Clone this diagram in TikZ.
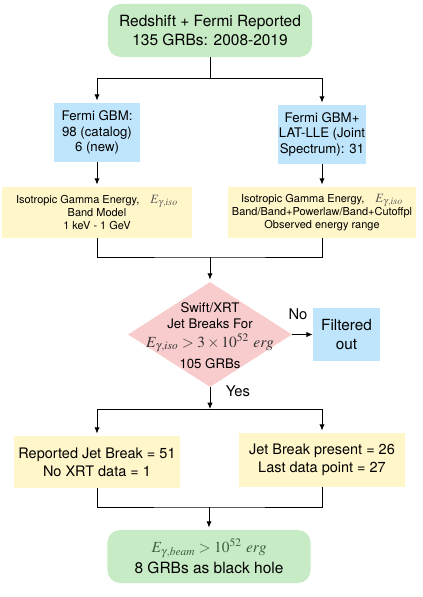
\documentclass[tikz,border=0pt]{standalone}
\usepackage{mathptmx}
\usepackage[no-math]{fontspec}
\setmainfont{TeX Gyre Heros}
\usepackage{tikz}
\usetikzlibrary{arrows.meta}
\usetikzlibrary{shapes.geometric}

\definecolor{boxgreen}{RGB}{199,235,197}
\definecolor{boxblue}{RGB}{190,229,251}
\definecolor{boxyellow}{RGB}{255,246,202}
\definecolor{boxpink}{RGB}{248,204,204}
\definecolor{mathgreen}{RGB}{60,95,60}

\tikzset{
	link/.style={line width=.7pt},
	flow/.style={line width=.7pt,->,>={Latex[length=4.5pt,width=3.8pt]},shorten >=1.5pt},
	endbox/.style={fill=boxgreen,rounded corners=9pt,inner sep=0pt,align=center,font=\fontsize{11}{13}\selectfont,minimum height=1.325cm},
	gbmbox/.style={fill=boxblue,inner sep=0pt,align=center,font=\fontsize{9.4}{10.7}\selectfont},
	isobox/.style={fill=boxyellow,inner sep=0pt,align=center,font=\fontsize{7.8}{9}\selectfont,minimum height=1.275cm},
	jbbox/.style={fill=boxyellow,inner sep=0pt,align=center,font=\fontsize{10.3}{12.6}\selectfont,minimum width=4.15cm},
	decision/.style={diamond,fill=boxpink,inner sep=0pt,minimum width=4.1cm,minimum height=2.625cm},
	answer/.style={font=\fontsize{10.5}{12}\selectfont}
}

\begin{document}
\begin{tikzpicture}[x=0.025cm,y=-0.025cm]
	\useasboundingbox (0,0) rectangle (422,597);
	\node[endbox,minimum width=5.1cm] (top) at (210,30.5) {Redshift + Fermi Reported\\135 GRBs: 2008-2019};
	\node[gbmbox,minimum width=2.15cm,minimum height=1.475cm] (gbm) at (97,132.5) {Fermi GBM:\\98 (catalog)\\6 (new)};
	\node[gbmbox,minimum width=2.175cm,minimum height=1.475cm] (lle) at (322,134.5) {Fermi GBM+\\LAT-LLE (Joint\\Spectrum): 31};
	\node[isobox,minimum width=4.725cm] (isoa) at (97,212.5) {Isotropic Gamma Energy,\quad{\fontsize{9}{9}\selectfont\color{black!65}$E_{\gamma,iso}$}\\Band Model\\1 keV - 1 GeV};
	\node[isobox,minimum width=4.7cm] (isob) at (322,212.5) {Isotropic Gamma Energy,\quad{\fontsize{9}{9}\selectfont\color{black!65}$E_{\gamma,iso}$}\\Band/Band+Powerlaw/Band+Cutoffpl\\Observed energy range};

	\node[decision] (jet) at (210,334.5) {};
	\node[align=center,font=\fontsize{9.4}{11.4}\selectfont] (jettxt) at ([yshift=-1pt]jet.center) {Swift/XRT\\Jet Breaks For\\[2pt]{\fontsize{11}{13}\selectfont\color{black!80}$E_{\gamma,iso} > 3\times10^{52}\ erg$}\\[4pt]105 GRBs};
	\node[gbmbox,font=\fontsize{10.9}{13}\selectfont,minimum width=1.675cm,minimum height=1.3cm] (filt) at (346.5,334.5) {Filtered\\out};
	\node[answer] (no) at (298,314) {No};
	\node[answer] (yes) at (238,391) {Yes};

	\node[jbbox,minimum height=1.3cm] (jba) at (97,462) {Reported Jet Break = 51\\No XRT data = 1};
	\node[jbbox,minimum height=1.35cm] (jbb) at (322,460) {Jet Break present = 26\\Last data point = 27};
	\node[endbox,minimum width=5.075cm] (bh) at (209,556.5) {{\fontsize{11}{13}\selectfont\color{mathgreen}$E_{\gamma,beam} > 10^{52}\ erg$}\\[2pt]8 GRBs as black hole};

	%\draw[help lines] (0,0) grid (422,597);
	\coordinate (splita) at (210,78);
	\coordinate (joina) at (210,257);
	\coordinate (splitb) at (210,409);
	\coordinate (joinb) at (209,507);

	\draw[link] (top.south) -- (splita);
	\draw[flow] (splita) -| (gbm.north);
	\draw[flow] (splita) -| (lle.north);
	\draw[flow] (gbm.south) -- (isoa.north);
	\draw[flow] (lle.south) -- (isob.north);
	\draw[link] (isoa.south) |- (joina) -| (isob.south);
	\draw[flow] (joina) -- (jet.north);
	\draw[flow,shorten >=0pt] (jet.east) -- (filt.west);
	\draw[flow,shorten >=0pt] (jet.south) -- (splitb);
	\draw[flow] (splitb) -| (jba.north);
	\draw[flow] (splitb) -| (jbb.north);
	\draw[link] (jba.south) |- (joinb) -| (jbb.south);
	\draw[flow] (joinb) -- (bh.north);
\end{tikzpicture}
\end{document}
